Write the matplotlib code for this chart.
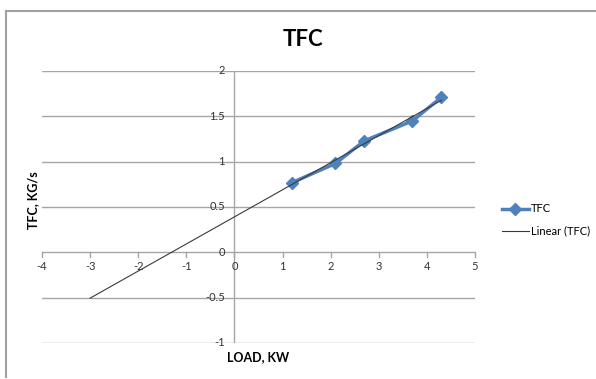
import numpy as np
import matplotlib.pyplot as plt
from matplotlib.lines import Line2D

plt.rcParams['font.family'] = ['Lato', 'DejaVu Sans']

# data
load_kw = [1.2, 2.1, 2.7, 3.7, 4.3]
tfc = [0.77, 0.98, 1.23, 1.45, 1.71]
x_ticks = [-4, -3, -2, -1, 0, 1, 2, 3, 4, 5]
y_ticks = [-1, -0.5, 0, 0.5, 1, 1.5, 2]
y_labels = ['-1', '-0.5', '0', '0.5', '1', '1.5', '2']

blue = '#4F81BD'
grid = '#A6A6A6'
fs = 8

fig = plt.figure(figsize=(5.96, 3.79), dpi=100)
ax = fig.add_axes([42/596, 1 - 343/379, 433/596, 272/379])

# linear trendline, fitted to the data and extended back to x = -3
slope, icpt = np.polyfit(load_kw, tfc, 1)
xt = np.array([-3, max(load_kw)])
trend, = ax.plot(xt, slope * xt + icpt, color='#3a3a3a', linewidth=0.8,
                 label='Linear (TFC)', zorder=4)

series, = ax.plot(load_kw, tfc, color=blue, linewidth=2.5, marker='D', markersize=6,
                  label='TFC', zorder=3)

ax.set_xlim(-4, 5)
ax.set_ylim(-1, 2)
for y in y_ticks:
    ax.axhline(y, color=grid, linewidth=1, zorder=1)

# axes crossing at the origin
for s in ['top', 'right', 'bottom', 'left']:
    ax.spines[s].set_visible(False)
ax.axvline(0, color=grid, linewidth=1, zorder=1)
ax.set_xticks([])
ax.set_yticks([])
for x in x_ticks:
    ax.plot([x, x], [0, -0.055], color=grid, linewidth=1, zorder=1, clip_on=False)
    ax.text(x, -0.1, str(x), ha='center', va='top', fontsize=fs, color='#333333')
for y, lab in zip(y_ticks, y_labels):
    ax.text(-0.2, y, lab, ha='right', va='center', fontsize=fs, color='#333333')

fig.text(303/596, 1 - 39/379, 'TFC', ha='center', va='center', fontsize=16, fontweight='bold')
fig.text(33/596, 1 - 200/379, 'TFC, KG/s', ha='center', va='center', rotation=90,
         fontsize=9, fontweight='bold')
fig.text(258/596, 1 - 357/379, 'LOAD, KW', ha='center', va='center', fontsize=9, fontweight='bold')

fig.legend(handles=[series, trend], loc='center left', bbox_to_anchor=(492/596, 1 - 220/379),
           frameon=False, fontsize=8, handlelength=2.4, handletextpad=0.2, labelspacing=1.0)

# chart frame (top and left edges only show)
fig.add_artist(Line2D([6/596, 595/596], [1 - 10.5/379, 1 - 10.5/379], color='#A0A0A0', linewidth=1.5))
fig.add_artist(Line2D([6/596, 6/596], [1 - 10.5/379, 1 - 377/379], color='#A0A0A0', linewidth=1.5))

plt.savefig('out.png', dpi=100)
plt.close()
